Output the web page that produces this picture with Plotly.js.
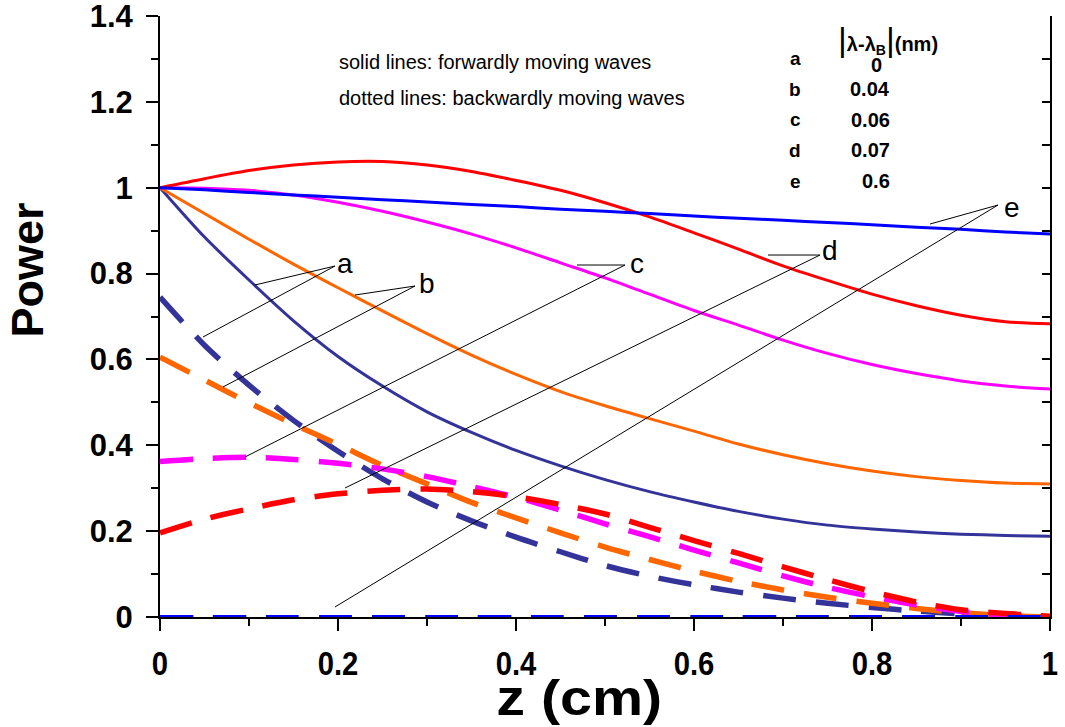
<!DOCTYPE html>
<html>
<head>
<meta charset="utf-8">
<script src="https://cdn.plot.ly/plotly-3.0.1.min.js"></script>
<style>body{margin:0;padding:0;background:#fff;} #chart{width:1065px;height:727px;}</style>
</head>
<body>
<div id="chart"></div>
<script>
// z positions (cm)
const z = [0,0.05,0.1,0.15,0.2,0.25,0.3,0.35,0.4,0.45,0.5,0.55,0.6,0.65,0.7,0.75,0.8,0.85,0.9,0.95,1];

// forward waves (solid)
const fwdA = [1,0.885,0.785,0.69,0.607,0.538,0.478,0.430,0.388,0.352,0.320,0.292,0.268,0.246,0.228,0.214,0.205,0.198,0.193,0.190,0.188];
const fwdB = [1,0.94,0.88,0.822,0.767,0.713,0.660,0.610,0.565,0.525,0.492,0.462,0.433,0.403,0.378,0.357,0.340,0.327,0.318,0.312,0.310];
const fwdC = [1,0.999,0.994,0.983,0.966,0.945,0.920,0.892,0.860,0.825,0.790,0.752,0.714,0.680,0.645,0.614,0.588,0.567,0.550,0.538,0.531];
const fwdD = [1,1.021,1.040,1.053,1.060,1.061,1.053,1.038,1.017,0.994,0.965,0.932,0.895,0.857,0.818,0.784,0.752,0.725,0.703,0.688,0.683];
const fwdE = [1,0.995,0.989,0.983,0.978,0.972,0.967,0.961,0.956,0.950,0.945,0.940,0.934,0.929,0.924,0.919,0.914,0.908,0.903,0.897,0.892];

// backward waves (dashed)
const bwdA = [0.745,0.633,0.54,0.458,0.386,0.322,0.268,0.224,0.186,0.152,0.120,0.095,0.075,0.058,0.044,0.032,0.022,0.014,0.007,0.002,0];
const bwdB = [0.605,0.552,0.499,0.449,0.402,0.353,0.310,0.267,0.231,0.196,0.163,0.134,0.107,0.083,0.063,0.046,0.032,0.020,0.010,0.003,0];
const bwdC = [0.362,0.369,0.372,0.367,0.358,0.345,0.327,0.304,0.279,0.249,0.217,0.187,0.156,0.126,0.096,0.069,0.047,0.028,0.013,0.004,0];
const bwdD = [0.196,0.228,0.252,0.273,0.287,0.295,0.298,0.292,0.280,0.262,0.240,0.209,0.178,0.148,0.117,0.087,0.059,0.035,0.017,0.008,0.002];
const bwdE = [0,0,0,0,0,0,0,0,0,0,0,0,0,0,0,0,0,0,0,0,0];

const curveLetters = ['a','b','c','d','e'];
const detuning = ['0','0.04','0.06','0.07','0.6'];
const colors = ['#333399','#FF6600','#FF00FF','#FF0000','#0000FF'];

const xTicks = [0,0.2,0.4,0.6,0.8,1];
const xTickText = ['0','0.2','0.4','0.6','0.8','1'];
const yTicks = [0,0.2,0.4,0.6,0.8,1,1.2,1.4];
const yTickText = ['0','0.2','0.4','0.6','0.8','1','1.2','1.4'];

// label positions and pointer lines (data coords)
const labelPos = [[0.2079,0.8246],[0.3000,0.7780],[0.5360,0.8246],[0.7528,0.8526],[0.9573,0.9528]];
const pointerStart = [[0.1966,0.8176],[0.2865,0.7710],[0.5225,0.8199],[0.7416,0.8432],[0.9416,0.9597]];
const pointerSolid = [[0.1067,0.7734],[0.2191,0.7501],[0.4685,0.8199],[0.6831,0.8432],[0.8652,0.9154]];
const pointerDash = [[0.0483,0.6522],[0.0708,0.5358],[0.0955,0.3727],[0.2079,0.3005],[0.1966,0.0233]];

const fwd = [fwdA,fwdB,fwdC,fwdD,fwdE];
const bwd = [bwdA,bwdB,bwdC,bwdD,bwdE];

const traces = [];
for (let i=0;i<5;i++){
  traces.push({x:z,y:fwd[i],mode:'lines',type:'scatter',
    line:{color:colors[i],width:3,shape:'spline',smoothing:0.8},hoverinfo:'skip',showlegend:false});
}
for (let i=0;i<5;i++){
  traces.push({x:z,y:bwd[i],mode:'lines',type:'scatter',cliponaxis:false,
    line:{color:colors[i],width:(i===4?4:5.5),dash:'33px,20px',shape:'spline',smoothing:0.8},hoverinfo:'skip',showlegend:false});
}
// invisible trace so the right-hand mirror axis is drawn
traces.push({x:[z[0]],y:[bwdE[0]],yaxis:'y2',mode:'none',type:'scatter',hoverinfo:'skip',showlegend:false});

const shapes = [];
const annotations = [];
for (let i=0;i<5;i++){
  shapes.push({type:'line',xref:'x',yref:'y',x0:pointerStart[i][0],y0:pointerStart[i][1],x1:pointerSolid[i][0],y1:pointerSolid[i][1],line:{color:'#000',width:1}});
  shapes.push({type:'line',xref:'x',yref:'y',x0:pointerStart[i][0],y0:pointerStart[i][1],x1:pointerDash[i][0],y1:pointerDash[i][1],line:{color:'#000',width:1}});
  annotations.push({xref:'x',yref:'y',x:labelPos[i][0],y:labelPos[i][1],text:curveLetters[i],showarrow:false,
    font:{family:'Liberation Sans, Arial, sans-serif',size:28,color:'#000'},xanchor:'center',yanchor:'middle'});
}

const FAM = 'Liberation Sans, Arial, sans-serif';
const pfont = {family:FAM,size:20,color:'#000'};
const bfont = {family:FAM,size:19,color:'#000',weight:'bold'};
annotations.push({xref:'paper',yref:'paper',x:0.1989,y:0.9235,text:'solid lines: forwardly moving waves',showarrow:false,xanchor:'left',yanchor:'middle',font:pfont});
annotations.push({xref:'paper',yref:'paper',x:0.1989,y:0.8636,text:'dotted lines: backwardly moving waves',showarrow:false,xanchor:'left',yanchor:'middle',font:pfont});
annotations.push({xref:'paper',yref:'paper',x:0.7595,y:(617-39)/601,
  text:'<span style="font-size:34px;font-weight:normal">|</span><b>λ-λ<sub>B</sub></b><span style="font-size:34px;font-weight:normal">|</span><b>(nm)</b>',
  showarrow:false,xanchor:'left',yanchor:'middle',font:{family:FAM,size:20,color:'#000',weight:'bold'}});
const rowPy = [58,89,120,150,181];
const valPy = [65,89,120,150,181];
for (let i=0;i<5;i++){
  annotations.push({xref:'paper',yref:'paper',x:0.7135,y:(617-rowPy[i])/601,text:'<b>'+curveLetters[i]+'</b>',showarrow:false,xanchor:'center',yanchor:'middle',font:bfont});
  annotations.push({xref:'paper',yref:'paper',x:(i===0?0.8056:0.8225),y:(617-valPy[i])/601,text:'<b>'+detuning[i]+'</b>',showarrow:false,xanchor:(i===0?'center':'right'),yanchor:'middle',font:{family:FAM,size:20,color:'#000',weight:'bold'}});
}
// axis titles
annotations.push({xref:'paper',yref:'paper',x:-0.149,y:0.577,text:'<b>Power</b>',textangle:-90,showarrow:false,xanchor:'center',yanchor:'middle',
  font:{family:FAM,size:45,color:'#000'}});
annotations.push({xref:'paper',yref:'paper',x:0.4708,y:-0.1345,text:'<b>z (cm)</b>',showarrow:false,xanchor:'center',yanchor:'middle',
  font:{family:FAM,size:50,color:'#000'}});

const layout = {
  width:1065,height:727,
  margin:{l:160,r:15,t:16,b:110,pad:0},
  paper_bgcolor:'#fff',plot_bgcolor:'#fff',
  showlegend:false,
  xaxis:{range:[0,1.00001],tickvals:xTicks,ticktext:xTickText,
    showgrid:false,zeroline:false,showline:true,linecolor:'#000',linewidth:2,
    ticks:'outside',ticklen:12,tickwidth:2,tickcolor:'#000',ticklabelstandoff:3,
    minor:{dtick:0.1,ticks:'outside',ticklen:7,tickwidth:2,tickcolor:'#000',showgrid:false},
    tickfont:{family:FAM,size:34,color:'#000',weight:'bold'},
    layer:'below traces',fixedrange:true},
  yaxis:{range:[0,1.40001],tickvals:yTicks,ticktext:yTickText,ticklabeloverflow:'allow',
    showgrid:false,zeroline:false,showline:true,linecolor:'#000',linewidth:2,
    ticks:'outside',ticklen:12,tickwidth:2,tickcolor:'#000',ticklabelstandoff:7,
    minor:{dtick:0.1,ticks:'outside',ticklen:7,tickwidth:2,tickcolor:'#000',showgrid:false},
    tickfont:{family:FAM,size:31,color:'#000',weight:'bold'},
    layer:'below traces',fixedrange:true},
  yaxis2:{range:[0,1.40001],overlaying:'y',side:'right',anchor:'x',
    showgrid:false,zeroline:false,showline:true,linecolor:'#000',linewidth:2,
    ticks:'inside',ticklen:8,tickwidth:2,tickcolor:'#000',tickmode:'linear',dtick:0.1,tick0:0,showticklabels:false,
    layer:'below traces',fixedrange:true},
  shapes:shapes,
  annotations:annotations
};
Plotly.newPlot('chart',traces,layout,{staticPlot:true,displayModeBar:false}).then(function(){
  // x tick labels of the reference are drawn in a narrower bold face
  document.querySelectorAll('.xtick text').forEach(function(el){
    const w = el.getComputedTextLength();
    el.setAttribute('textLength', (w*0.86).toFixed(1));
    el.setAttribute('lengthAdjust','spacingAndGlyphs');
  });
  // the x-axis title of the reference is wider
  document.querySelectorAll('.annotation-text').forEach(function(el){
    if (el.textContent === 'z (cm)') {
      el.setAttribute('textLength','166');
      el.setAttribute('lengthAdjust','spacingAndGlyphs');
    }
  });
});
</script>
</body>
</html>
